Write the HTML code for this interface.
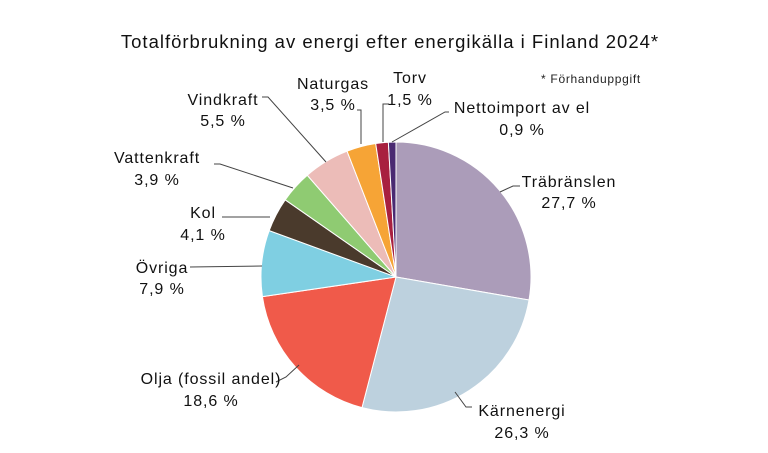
<!DOCTYPE html><html><head><meta charset="utf-8"><style>body{margin:0;background:#fff}svg{display:block;font-family:"Liberation Sans",sans-serif}</style></head><body>
<svg id="s" width="768" height="453" viewBox="0 0 768 453">
<text x="390" y="48" font-size="18.5" letter-spacing="1" text-anchor="middle" fill="#111">Totalförbrukning av energi efter energikälla  i Finland 2024*</text>
<text x="591" y="83" font-size="12" letter-spacing="0.7" text-anchor="middle" fill="#222">* Förhanduppgift</text>
<g id="pie"></g>
<g stroke="#444" stroke-width="1" fill="none">
<polyline points="262,97 268,97 326,162"/>
<polyline points="357,110 361,110 361,144"/>
<polyline points="389,104 383,104 383,142"/>
<polyline points="449,112 445,112 392,142"/>
<polyline points="520,186 513,186 500,192"/>
<polyline points="214,164 220,164 293,188"/>
<polyline points="222,217 270,217"/>
<polyline points="190,267 262,266"/>
<polyline points="276,382 286,377 299,365"/>
<polyline points="472,407 466,407 455,392"/>
</g>
<g font-size="16" letter-spacing="0.9" text-anchor="middle" fill="#111">
<text x="223" y="105">Vindkraft</text><text x="223" y="126">5,5 %</text>
<text x="333" y="89">Naturgas</text><text x="333" y="110">3,5 %</text>
<text x="410" y="83">Torv</text><text x="410" y="105">1,5 %</text>
<text x="522" y="113">Nettoimport av el</text><text x="522" y="135">0,9 %</text>
<text x="569" y="187">Träbränslen</text><text x="569" y="208">27,7 %</text>
<text x="157" y="163">Vattenkraft</text><text x="157" y="185">3,9 %</text>
<text x="203" y="218">Kol</text><text x="203" y="240">4,1 %</text>
<text x="162" y="273">Övriga</text><text x="162" y="294">7,9 %</text>
<text x="211" y="384">Olja (fossil andel)</text><text x="211" y="406">18,6 %</text>
<text x="522" y="416">Kärnenergi</text><text x="522" y="438">26,3 %</text>
</g>
</svg>
<script>
var d=[[27.7,"#ab9cb9"],[26.3,"#bdd1de"],[18.6,"#f05a4a"],[7.9,"#7fcfe2"],[4.1,"#4a3a2c"],[3.9,"#8fcb72"],[5.5,"#ecbcb8"],[3.5,"#f6a436"],[1.5,"#a8203f"],[0.9,"#4a2a72"]];
var cx=396,cy=277,r=135,a=0,tot=99.9,g=document.getElementById("pie"),h="";
d.forEach(function(s){var a2=a+s[0]/tot*2*Math.PI;
var x1=cx+r*Math.sin(a),y1=cy-r*Math.cos(a),x2=cx+r*Math.sin(a2),y2=cy-r*Math.cos(a2);
h+='<path d="M'+cx+','+cy+'L'+x1+','+y1+'A'+r+','+r+' 0 '+((a2-a)>Math.PI?1:0)+' 1 '+x2+','+y2+'Z" fill="'+s[1]+'" stroke="#fff" stroke-width="1"/>';a=a2;});
g.innerHTML=h;
</script>
</body></html>
